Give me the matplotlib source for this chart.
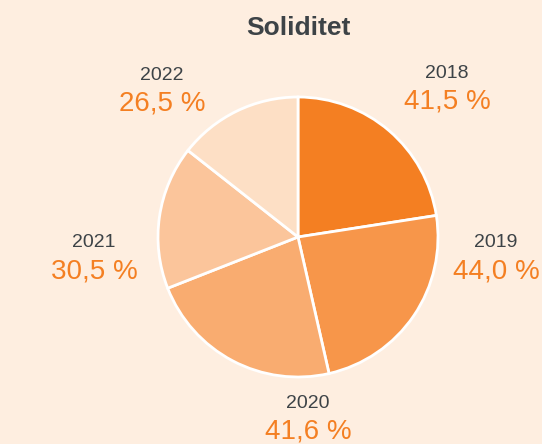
import matplotlib
matplotlib.use("Agg")
import matplotlib.pyplot as plt

# Data
years = ["2018", "2019", "2020", "2021", "2022"]
values = [41.5, 44.0, 41.6, 30.5, 26.5]
value_labels = ["41,5 %", "44,0 %", "41,6 %", "30,5 %", "26,5 %"]
title = "Soliditet"

# Style
bg = "#FEEEE0"
slice_colors = ["#F47F22", "#F7964A", "#F9AC70", "#FBC59B", "#FDDFC5"]
orange = "#F47F22"
dark = "#3d4347"

# Label layout (pixel coordinates: x center, y centers from top)
label_pos = {
    "2018": (447, 73, 101),
    "2019": (496, 242, 271),
    "2020": (308, 403, 431),
    "2021": (94, 242, 271),
    "2022": (162, 75, 103),
}

W, H = 542, 444
fig = plt.figure(figsize=(W / 100, H / 100), dpi=100, facecolor=bg)
plt.rcParams['font.family'] = ['Liberation Sans', 'DejaVu Sans']

cx, cy, r = 298, 237, 140
ax = fig.add_axes([(cx - r) / W, (H - cy - r) / H, 2 * r / W, 2 * r / H])
ax.set_facecolor(bg)
wedges, _ = ax.pie(values, colors=slice_colors, startangle=90, counterclock=False,
                   radius=1, wedgeprops=dict(edgecolor="white", linewidth=2))
for w in wedges:
    w.set_clip_on(False)
ax.set_xlim(-1.0, 1.0)
ax.set_ylim(-1.0, 1.0)
ax.set_aspect("equal")
ax.axis("off")

fig.text(298 / W, 1 - 28 / H, title, ha="center", va="center",
         fontsize=19, fontweight="bold", color=dark)

for y, vl in zip(years, value_labels):
    x, ty, vy = label_pos[y]
    fig.text(x / W, 1 - ty / H, y, ha="center", va="center",
             fontsize=14, color=dark)
    fig.text(x / W, 1 - vy / H, vl, ha="center", va="center",
             fontsize=20, color=orange)

fig.savefig("out.png", dpi=100, facecolor=bg)
